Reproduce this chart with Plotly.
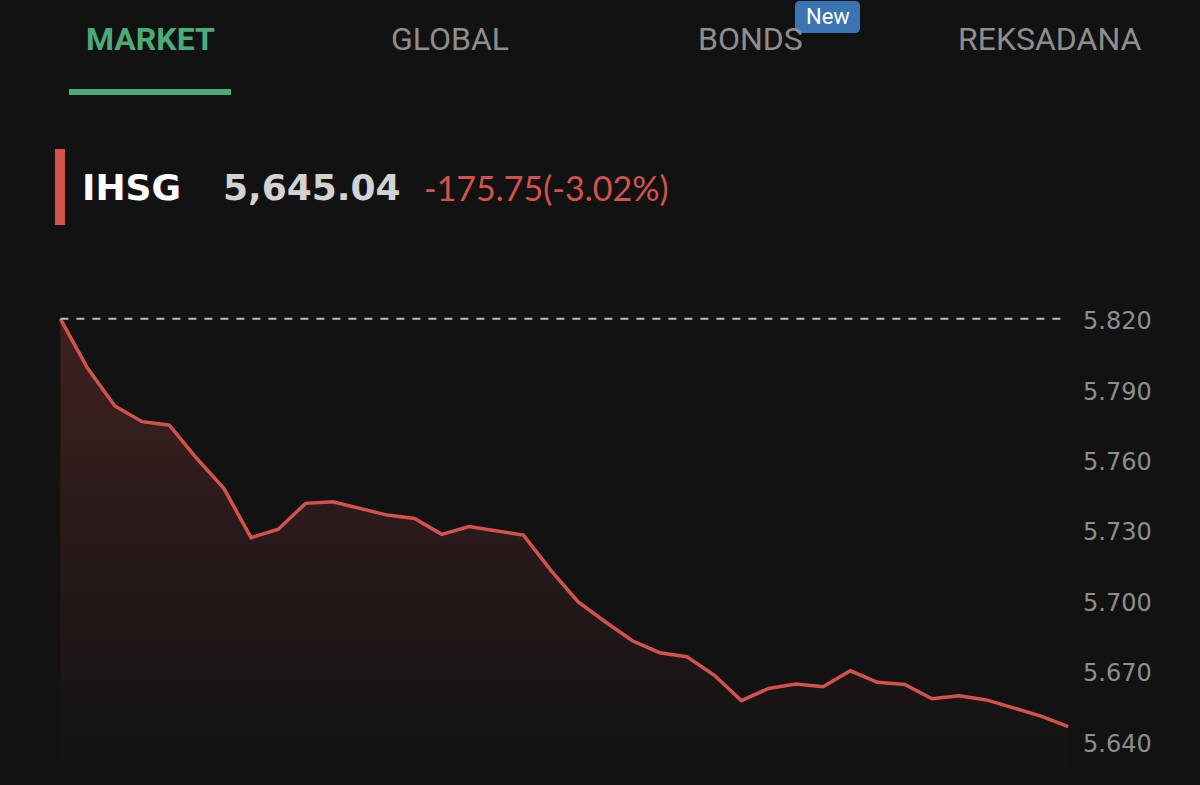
import plotly.graph_objects as go

# ---------------- data ----------------
tabs = ["MARKET", "GLOBAL", "BONDS", "REKSADANA"]
badge_text = "New"
index_name = "IHSG"
last_price_text = "5,645.04"
change_text = "-175.75(-3.02%)"
prev_close = 5820.79
values = [5820.79, 5799.7, 5783.7, 5777.0, 5775.5, 5761.4, 5748.6, 5727.6,
          5731.2, 5742.2, 5742.9, 5740.1, 5737.2, 5735.8, 5729.0, 5732.3,
          5730.6, 5728.7, 5713.8, 5700.3, 5691.8, 5683.7, 5678.6, 5676.9,
          5669.1, 5658.2, 5663.4, 5665.3, 5664.1, 5670.9, 5666.0, 5665.1,
          5659.0, 5660.3, 5658.5, 5655.2, 5651.6, 5647.1]
tick_vals = [5640, 5670, 5700, 5730, 5760, 5790, 5820]
tick_text = ["5.640", "5.670", "5.700", "5.730", "5.760", "5.790", "5.820"]

# ---------------- style ----------------
W, H = 1200, 785
BG = "#121212"
RED = "#d4524d"
GREEN = "#4bac79"
GREY = "#8e8e8e"
ML, MR, MT, MB = 50, 120, 290, 15
PW, PH = W - ML - MR, H - MT - MB
Y_LO, Y_HI = 5628.65, 5833.07
x = list(range(len(values)))
X_LO, X_HI = -0.382, (len(values) - 1) + 0.433


def px(v):
    return (v - ML) / PW


def py(v):
    return (H - MB - v) / PH


fig = go.Figure()
fig.add_trace(go.Scatter(
    x=x, y=values, mode="lines",
    line=dict(color=RED, width=3.5),
    fill="tozeroy",
    fillgradient=dict(type="vertical", start=5635.0, stop=prev_close,
                      colorscale=[[0, "rgba(19,19,19,1)"], [1, "rgba(64,33,33,1)"]]),
    hoverinfo="skip", showlegend=False,
))

shapes = []
# previous close dashed line
shapes.append(dict(type="line", xref="x", yref="y", x0=x[0], x1=x[-1],
                   y0=prev_close, y1=prev_close,
                   line=dict(color="#bdbdbd", width=2, dash="8px,8px")))
# tab underline
shapes.append(dict(type="rect", xref="paper", yref="paper",
                   x0=px(69), x1=px(231), y0=py(95), y1=py(89),
                   fillcolor=GREEN, line=dict(width=0)))
# red side bar
shapes.append(dict(type="rect", xref="paper", yref="paper",
                   x0=px(55), x1=px(65), y0=py(225), y1=py(149),
                   fillcolor=RED, line=dict(width=0)))
# rounded "New" badge
bx0, bx1, by0, by1, r = 795, 860, 1, 33, 5
path = (f"M {px(bx0 + r)},{py(by0)} L {px(bx1 - r)},{py(by0)} "
        f"Q {px(bx1)},{py(by0)} {px(bx1)},{py(by0 + r)} "
        f"L {px(bx1)},{py(by1 - r)} Q {px(bx1)},{py(by1)} {px(bx1 - r)},{py(by1)} "
        f"L {px(bx0 + r)},{py(by1)} Q {px(bx0)},{py(by1)} {px(bx0)},{py(by1 - r)} "
        f"L {px(bx0)},{py(by0 + r)} Q {px(bx0)},{py(by0)} {px(bx0 + r)},{py(by0)} Z")
shapes.append(dict(type="path", xref="paper", yref="paper", path=path,
                   fillcolor="#3a74b3", line=dict(width=0)))

ann = []
tab_centers = [150, 450, 750, 1050]
for i, (t, cx) in enumerate(zip(tabs, tab_centers)):
    active = i == 0
    ann.append(dict(xref="paper", yref="paper", x=px(cx), y=py(39), text=t,
                    showarrow=False, xanchor="center", yanchor="middle",
                    font=dict(family="Roboto", size=32,
                              color=GREEN if active else GREY,
                              weight="bold" if active else "normal")))
ann.append(dict(xref="paper", yref="paper", x=px(827.5), y=py(17), text=badge_text,
                showarrow=False, xanchor="center", yanchor="middle",
                font=dict(family="Roboto", size=22, color="#ffffff")))
ann.append(dict(xref="paper", yref="paper", x=px(80), y=py(187), text=index_name,
                showarrow=False, xanchor="left", yanchor="middle",
                font=dict(family="DejaVu Sans", size=36, color="#ffffff", weight="bold")))
ann.append(dict(xref="paper", yref="paper", x=px(221), y=py(187), text=last_price_text,
                showarrow=False, xanchor="left", yanchor="middle",
                font=dict(family="DejaVu Sans", size=36, color="#d2d2d2", weight="bold")))
ann.append(dict(xref="paper", yref="paper", x=px(422), y=py(187), text=change_text,
                showarrow=False, xanchor="left", yanchor="middle",
                font=dict(family="Lato", size=34, color=RED)))

fig.update_layout(
    width=W, height=H,
    margin=dict(l=ML, r=MR, t=MT, b=MB, pad=0),
    paper_bgcolor=BG, plot_bgcolor=BG,
    shapes=shapes, annotations=ann,
    xaxis=dict(range=[X_LO, X_HI], visible=False, fixedrange=True),
    yaxis=dict(range=[Y_LO, Y_HI], side="right", showgrid=False, zeroline=False,
               showline=False, ticks="", tickvals=tick_vals, ticktext=tick_text,
               tickfont=dict(family="DejaVu Sans", size=24, color=GREY),
               ticklabelstandoff=2, fixedrange=True),
    hovermode=False,
)

fig.write_html("out.html", config={"displayModeBar": False})
